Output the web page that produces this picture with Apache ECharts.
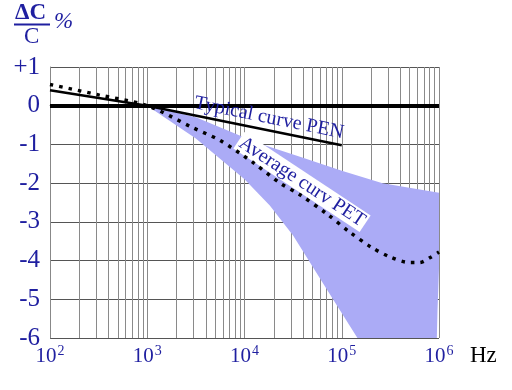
<!DOCTYPE html>
<html>
<head>
<meta charset="utf-8">
<script src="https://cdn.jsdelivr.net/npm/echarts@6/dist/echarts.min.js"></script>
<style>html,body{margin:0;padding:0;background:#fff}#c{width:512px;height:390px}</style>
</head>
<body>
<div id="c"></div>
<script>
// ---- data ----
const yTicks = [1, 0, -1, -2, -3, -4, -5, -6];
const xDecades = [100, 1000, 10000, 100000, 1000000];

const penFreq = [100, 1000, 100000];
const penVal  = [0.4, 0.0, -1.02];

const petFreq = [100, 316, 1000, 2950, 5620, 12300, 22900, 37200, 70800, 120000, 200000, 309000, 501000, 631000, 813000, 1000000];
const petVal  = [0.55, 0.28, 0.0, -0.57, -0.9, -1.47, -1.99, -2.3, -2.8, -3.26, -3.65, -3.9, -4.05, -4.05, -3.92, -3.78];

const bandUpperFreq = [1000, 3160, 10000, 14500, 37200, 100000, 263000, 1000000];
const bandUpperVal  = [0.0, -0.3, -0.82, -0.98, -1.32, -1.68, -2.0, -2.25];
const bandRightFreq = [1000000, 965000];
const bandRightVal  = [-4.2, -5.3];
const bandLowerFreq = [1000, 3160, 10000, 18200, 31600, 81300, 145000, 950000];
const bandLowerVal  = [0.0, -0.85, -1.9, -2.58, -3.35, -5.0, -6.0, -6.0];

const NAVY = '#1f1fa0';
const SERIF = '"Liberation Serif","DejaVu Serif",serif';

// minor grid positions (2..9 within each decade)
const minorLines = [];
for (let d = 0; d < xDecades.length - 1; d++) {
  for (let m = 2; m <= 9; m++) minorLines.push({ xAxis: m * xDecades[d] });
}

const zip = (a, b) => a.map((v, i) => [v, b[i]]);

const chart = echarts.init(document.getElementById('c'), null, { renderer: 'canvas' });
chart.setOption({
  animation: false,
  backgroundColor: '#fff',
  grid: { left: 50, right: 73, top: 67, bottom: 52 },
  xAxis: {
    type: 'log', logBase: 10, min: 100, max: 1000000,
    axisLine: { show: true, lineStyle: { color: '#888', width: 1 } },
    axisTick: { show: false },
    splitLine: { show: true, lineStyle: { color: '#8a8a8a', width: 1 } },
    axisLabel: {
      margin: 6,
      formatter: v => '{b|10}{s|' + Math.round(Math.log10(v)) + '}',
      rich: {
        b: { fontSize: 21, fontFamily: SERIF, color: NAVY, lineHeight: 24 },
        s: { fontSize: 14, fontFamily: SERIF, color: NAVY, padding: [0, 0, 10, 1] }
      }
    }
  },
  yAxis: {
    type: 'value', min: -6, max: 1, interval: 1,
    axisLine: { show: true, lineStyle: { color: '#888', width: 1 } },
    axisTick: { show: false },
    splitLine: { show: true, lineStyle: { color: '#555', width: 1 } },
    axisLabel: {
      margin: 10, fontSize: 25, fontFamily: SERIF, color: NAVY,
      formatter: v => v > 0 ? '+' + v : (v === 0 ? '0' : '-' + Math.abs(v))
    }
  },
  series: [
    {
      type: 'line', z: 1, silent: true, data: [],
      markLine: {
        z: 1, silent: true, symbol: 'none', animation: false,
        label: { show: false },
        lineStyle: { color: '#8a8a8a', width: 1, type: 'solid' },
        data: minorLines
      }
    },
    {
      type: 'custom', z: 2, silent: true,
      data: [[1000, 0]],
      renderItem: (params, api) => {
        const pts = [];
        bandUpperFreq.forEach((f, i) => pts.push(api.coord([f, bandUpperVal[i]])));
        bandRightFreq.forEach((f, i) => pts.push(api.coord([f, bandRightVal[i]])));
        for (let i = bandLowerFreq.length - 1; i >= 0; i--) pts.push(api.coord([bandLowerFreq[i], bandLowerVal[i]]));
        return { type: 'polygon', shape: { points: pts }, style: { fill: '#ababf6', stroke: null } };
      }
    },
    {
      type: 'line', z: 3, silent: true, data: [],
      markLine: {
        z: 3, silent: true, symbol: 'none', animation: false,
        label: { show: false },
        lineStyle: { color: '#000', width: 4, type: 'solid' },
        data: [{ yAxis: 0 }]
      }
    },
    {
      name: 'Typical curve PEN', type: 'line', z: 4, silent: true,
      data: zip(penFreq, penVal), symbol: 'none',
      lineStyle: { color: '#000', width: 2.5 }
    },
    {
      name: 'Average curv PET', type: 'line', z: 6, silent: true,
      data: zip(petFreq, petVal), symbol: 'none', smooth: 0.3,
      lineStyle: { color: '#000', width: 3.5, type: [3.5, 6], cap: 'butt' }
    }
  ],
  graphic: [
    { type: 'text', z: 100, left: 15, top: 2, style: { text: 'ΔC', font: 'bold 23px ' + SERIF, fill: NAVY } },
    { type: 'line', z: 100, shape: { x1: 14, y1: 24.5, x2: 50, y2: 24.5 }, style: { stroke: NAVY, lineWidth: 2 } },
    { type: 'text', z: 100, left: 24, top: 25, style: { text: 'C', font: '23px ' + SERIF, fill: NAVY } },
    { type: 'text', z: 100, left: 54, top: 10, style: { text: '%', font: 'italic 23px ' + SERIF, fill: NAVY } },
    { type: 'text', z: 100, left: 470, top: 344, style: { text: 'Hz', font: '23px ' + SERIF, fill: '#000' } },
    { type: 'text', z: 100, x: 269, y: 118, rotation: -11.5 * Math.PI / 180,
      style: { text: 'Typical curve PEN', font: '20px ' + SERIF, fill: NAVY, align: 'center', verticalAlign: 'middle' } },
    { type: 'text', z: 5, x: 302, y: 182, rotation: -33.5 * Math.PI / 180,
      style: { text: 'Average curv PET', font: '20px ' + SERIF, fill: NAVY, align: 'center', verticalAlign: 'middle',
               backgroundColor: '#fff', padding: [0, 2] } }
  ]
});
</script>
</body>
</html>
